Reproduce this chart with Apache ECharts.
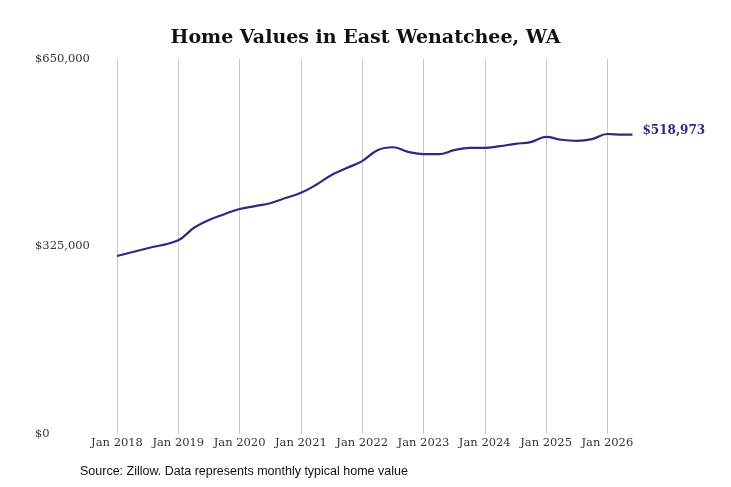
<!DOCTYPE html><html><head><meta charset="utf-8"><script src="https://cdn.jsdelivr.net/npm/echarts@6/dist/echarts.min.js"></script>
<style>body{margin:0}#c{width:731px;height:487px}</style></head><body><div id="c"></div><script>
const dates=[2018,2018.5,2019,2019.25,2019.5,2019.75,2020,2020.25,2020.5,2020.75,2021,2021.25,2021.5,2021.75,2022,2022.25,2022.5,2022.75,2023,2023.25,2023.5,2023.75,2024,2024.25,2024.5,2024.75,2025,2025.25,2025.5,2025.75,2026,2026.25,2026.41];
const values=[308500,322000,336000,357000,371000,381000,390000,395000,400000,409000,418000,432000,449000,461000,473000,492000,497000,489000,485000,485000,492000,496000,496000,499000,503000,506000,515000,510000,508000,511000,520000,519000,518973];
const yTicks=[0,325000,650000];
const serif='"DejaVu Serif","Liberation Serif",serif';
const c=echarts.init(document.getElementById('c'));
c.setOption({
title:{text:'Home Values in East Wenatchee, WA',left:'center',top:24,textStyle:{fontFamily:serif,fontSize:19,fontWeight:'bold',color:'#111'}},
graphic:[{type:'text',left:80,top:465,style:{text:'Source: Zillow. Data represents monthly typical home value',font:'12.5px "Liberation Sans",Arial,sans-serif',fill:'#111'}}],
grid:{left:117,right:93,top:59,bottom:53},
xAxis:{type:'value',min:2018,max:2026.5,interval:1,axisLine:{show:false},axisTick:{show:false},
 axisLabel:{showMaxLabel:false,fontFamily:serif,fontSize:11.5,color:'#333',margin:3,formatter:v=>Number.isInteger(v)?'Jan '+v:''},
 splitLine:{show:true,showMaxLine:false,lineStyle:{color:'#c8c8c8'}}},
yAxis:{type:'value',min:0,max:650000,interval:325000,axisLine:{show:false},axisTick:{show:false},splitLine:{show:false},
 axisLabel:{fontFamily:serif,fontSize:11.5,color:'#333',align:'left',margin:82,verticalAlign:'middle',formatter:v=>'$'+v.toLocaleString('en-US')}},
series:[{type:'line',data:dates.map((d,i)=>[d,values[i]]),smooth:0.4,symbol:'none',lineStyle:{color:'#2e2a80',width:2.2},
 endLabel:{show:true,formatter:p=>'$'+p.value[1].toLocaleString('en-US'),fontFamily:serif,fontWeight:'bold',fontSize:12,color:'#2e2a80',distance:10,offset:[0,-4]}}]
});
</script></body></html>
